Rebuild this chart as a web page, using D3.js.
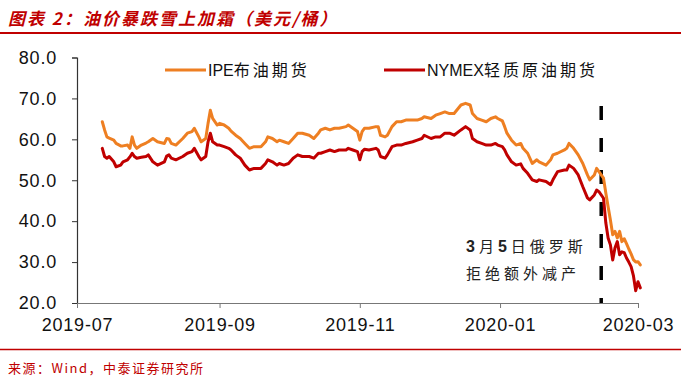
<!DOCTYPE html>
<html>
<head>
<meta charset="utf-8">
<script src="https://cdn.jsdelivr.net/npm/d3@7/dist/d3.min.js"></script>
<style>
	body { margin: 0; background: #fff; }
	svg { display: block; }
</style>
</head>
<body>
<svg id="chart" width="681" height="386"></svg>
<script>
var dates = [
	'2019-07-12','2019-07-13','2019-07-14','2019-07-15','2019-07-17','2019-07-18','2019-07-20','2019-07-21','2019-07-23','2019-07-24',
	'2019-07-25','2019-07-26','2019-07-27','2019-07-29','2019-07-31','2019-08-01','2019-08-03','2019-08-05','2019-08-08','2019-08-09',
	'2019-08-10','2019-08-11','2019-08-13','2019-08-16','2019-08-18','2019-08-20','2019-08-21','2019-08-23','2019-08-24','2019-08-26',
	'2019-08-27','2019-08-28','2019-08-29','2019-08-31','2019-09-01','2019-09-03','2019-09-05','2019-09-06','2019-09-08','2019-09-10',
	'2019-09-12','2019-09-14','2019-09-16','2019-09-19','2019-09-21','2019-09-22','2019-09-24','2019-09-26','2019-09-27','2019-09-29',
	'2019-10-01','2019-10-03','2019-10-05','2019-10-07','2019-10-10','2019-10-12','2019-10-14','2019-10-15','2019-10-17','2019-10-19',
	'2019-10-21','2019-10-23','2019-10-26','2019-10-27','2019-10-29','2019-10-31','2019-11-01','2019-11-02','2019-11-03','2019-11-05',
	'2019-11-08','2019-11-09','2019-11-10','2019-11-12','2019-11-13','2019-11-15','2019-11-17','2019-11-19','2019-11-21','2019-11-24',
	'2019-11-26','2019-11-28','2019-11-29','2019-12-02','2019-12-04','2019-12-06','2019-12-08','2019-12-10','2019-12-12','2019-12-15',
	'2019-12-17','2019-12-19','2019-12-20','2019-12-22','2019-12-24','2019-12-26','2019-12-28','2019-12-30','2019-12-31','2020-01-02',
	'2020-01-03','2020-01-04','2020-01-06','2020-01-08','2020-01-10','2020-01-11','2020-01-13','2020-01-15','2020-01-17','2020-01-18',
	'2020-01-21','2020-01-23','2020-01-24','2020-01-26','2020-01-29','2020-01-30','2020-01-31','2020-02-02','2020-02-04','2020-02-06',
	'2020-02-08','2020-02-09','2020-02-11','2020-02-12','2020-02-13','2020-02-15','2020-02-16','2020-02-17','2020-02-18','2020-02-19',
	'2020-02-20','2020-02-21','2020-02-22','2020-02-23','2020-02-24','2020-02-25','2020-02-26','2020-02-27','2020-02-28','2020-02-29',
	'2020-03-01','2020-03-02'
];

// IPE布油期货
var ipeBrent = [
	64.3,62.3,60.6,60.3,59.8,59.0,58.4,58.4,58.6,57.8,
	60.6,58.6,57.8,58.6,59.1,59.4,60.2,59.4,59.0,60.2,
	60.1,59.0,58.6,60.2,61.5,61.9,62.7,60.6,59.4,60.2,
	63.9,67.1,65.1,63.5,63.9,63.5,62.7,62.0,61.0,60.2,
	59.0,57.8,58.2,58.2,59.4,60.6,60.2,59.4,59.8,59.4,
	59.0,60.2,61.5,61.5,61.0,60.2,61.5,62.3,62.7,62.3,
	62.7,62.7,63.1,63.5,62.7,61.9,59.8,61.9,62.7,62.7,
	63.1,63.1,61.0,60.6,61.0,63.1,64.3,64.3,64.7,64.7,
	64.7,65.1,65.5,65.1,65.9,66.3,66.7,66.3,66.3,68.4,
	68.8,68.4,66.3,65.1,64.7,64.3,65.1,65.5,65.1,64.5,
	63.1,61.5,59.8,58.6,59.0,57.8,56.6,54.1,55.0,54.5,
	53.7,55.0,56.2,56.6,57.4,57.8,59.0,57.8,56.2,54.1,
	51.3,50.1,51.3,52.9,52.1,50.5,46.9,43.5,40.3,36.7,
	37.5,35.9,37.5,35.0,35.7,34.5,33.2,32.0,30.6,30.0,
	30.1,29.3
];

// NYMEX轻质原油期货
var nymexWti = [
	57.8,55.8,55.4,55.8,54.5,53.3,53.7,54.5,55.0,55.7,
	56.6,55.8,55.4,55.6,55.8,56.2,54.5,53.7,54.5,55.9,
	56.2,55.4,55.0,55.8,56.6,57.0,57.8,55.8,55.0,55.8,
	59.4,61.5,59.4,58.6,58.6,58.2,57.8,57.4,56.2,55.4,
	53.7,52.5,52.9,52.9,54.1,55.0,54.5,53.7,54.1,53.7,
	54.1,55.4,56.2,55.8,55.8,55.4,56.6,56.6,57.0,57.4,
	57.0,57.4,57.4,57.8,57.4,57.0,55.0,57.0,57.6,57.4,
	57.8,57.4,55.8,55.4,56.2,58.2,58.6,58.6,59.0,59.4,
	59.8,60.2,61.0,60.2,60.6,60.6,61.5,61.5,61.0,62.3,
	63.1,62.3,60.2,59.4,59.0,58.6,58.6,59.0,58.6,58.2,
	57.4,56.2,54.5,53.7,54.0,52.9,51.7,50.1,49.7,50.1,
	49.7,48.9,50.1,52.1,52.5,52.5,53.7,52.9,51.3,48.4,
	45.7,45.2,46.4,47.6,47.2,45.6,39.6,35.9,34.2,30.5,
	33.5,35.0,31.8,32.5,32.3,31.0,30.0,28.9,26.7,23.0,
	25.2,23.7
];

var yTicks = [20, 30, 40, 50, 60, 70, 80];
var xTickDates = ['2019-07-01', '2019-09-01', '2019-11-01', '2020-01-01', '2020-03-01'];
var xTickLabels = ['2019-07', '2019-09', '2019-11', '2020-01', '2020-03'];
var seriesNames = ['IPE布油期货', 'NYMEX轻质原油期货'];
var eventDate = '2020-02-14';
var eventLines = ['3月5日俄罗斯', '拒绝额外减产'];
var titleText = '图表 2：油价暴跌雪上加霜（美元/桶）';
var sourceText = '来源：Wind，中泰证券研究所';

var brandRed = '#c00000';
var orange = '#ee7f22';
var latin = '"Liberation Sans", Arial, sans-serif';
var cjk = '"Noto Sans CJK SC", "Liberation Sans", sans-serif';

var svg = d3.select('#chart');
var parseDate = d3.timeParse('%Y-%m-%d');

var x = d3.scaleTime()
	.domain([parseDate(xTickDates[0]), parseDate(xTickDates[xTickDates.length - 1])])
	.range([77, 638]);

var y = d3.scaleLinear()
	.domain([20, 80])
	.range([303, 57.5]);

// header and footer
svg.append('text')
	.attr('x', 8)
	.attr('y', 25)
	.attr('font-family', cjk)
	.attr('font-size', '17px')
	.attr('font-weight', 'bold')
	.attr('font-style', 'italic')
	.attr('letter-spacing', '2px')
	.attr('fill', brandRed)
	.text(titleText);

svg.append('line')
	.attr('x1', 0).attr('x2', 681)
	.attr('y1', 33).attr('y2', 33)
	.attr('stroke', brandRed)
	.attr('stroke-width', 2);

svg.append('line')
	.attr('x1', 0).attr('x2', 681)
	.attr('y1', 349.5).attr('y2', 349.5)
	.attr('stroke', brandRed)
	.attr('stroke-width', 1.5);

svg.append('text')
	.attr('x', 8)
	.attr('y', 373)
	.attr('font-family', cjk)
	.attr('font-size', '13px')
	.attr('letter-spacing', '1.5px')
	.attr('fill', brandRed)
	.text(sourceText);

// axes
var yAxis = svg.append('g')
	.attr('transform', 'translate(77,0)')
	.call(d3.axisLeft(y).tickValues(yTicks).tickFormat(d3.format('.1f')).tickSize(5).tickPadding(15));

var xAxis = svg.append('g')
	.attr('transform', 'translate(0,303)')
	.call(d3.axisBottom(x)
		.tickValues(xTickDates.map(parseDate))
		.tickFormat(function(d, i) { return xTickLabels[i]; })
		.tickSize(5).tickPadding(10).tickSizeOuter(0));

yAxis.select('.domain').attr('stroke', '#333').attr('stroke-width', 1.2);
yAxis.selectAll('.tick line').attr('stroke', '#333');
xAxis.select('.domain').attr('stroke', '#777').attr('stroke-width', 1.2);
xAxis.selectAll('.tick line').attr('stroke', '#777');

svg.selectAll('.tick text')
	.attr('font-family', latin)
	.attr('font-size', '18px')
	.attr('letter-spacing', '0.8px')
	.attr('fill', '#111');

// event marker
var ex = x(parseDate(eventDate));
svg.append('line')
	.attr('x1', ex).attr('x2', ex)
	.attr('y1', 106).attr('y2', 303)
	.attr('stroke', '#000')
	.attr('stroke-width', 3.5)
	.attr('stroke-dasharray', '14,18');

var note = svg.append('g')
	.attr('font-family', cjk)
	.attr('font-size', '15px')
	.attr('letter-spacing', '4px')
	.attr('fill', '#222');

var first = note.append('text').attr('x', 466).attr('y', 252);
first.selectAll('tspan')
	.data(eventLines[0].split(/(\d+)/).filter(function(s) { return s.length; }))
	.enter().append('tspan')
	.attr('font-family', function(s) { return /\d/.test(s) ? latin : cjk; })
	.attr('font-weight', function(s) { return /\d/.test(s) ? 'bold' : 'normal'; })
	.attr('font-size', function(s) { return /\d/.test(s) ? '16px' : '15px'; })
	.text(function(s) { return s; });

note.append('text')
	.attr('x', 466).attr('y', 279)
	.text(eventLines[1]);

// series
var rows = dates.map(function(d, i) {
	return { date: parseDate(d), ipe: ipeBrent[i], wti: nymexWti[i] };
});

var series = [
	{ key: 'ipe', color: orange },
	{ key: 'wti', color: brandRed }
];

series.forEach(function(s) {
	var line = d3.line()
		.x(function(d) { return x(d.date); })
		.y(function(d) { return y(d[s.key]); });

	svg.append('path')
		.datum(rows)
		.attr('d', line)
		.attr('fill', 'none')
		.attr('stroke', s.color)
		.attr('stroke-width', 3)
		.attr('stroke-linejoin', 'round')
		.attr('stroke-linecap', 'round');
});

// legend
var legendX = [165, 384];
series.forEach(function(s, i) {
	var g = svg.append('g').attr('transform', 'translate(' + legendX[i] + ',70)');
	g.append('line')
		.attr('x1', 0).attr('x2', 41)
		.attr('stroke', s.color)
		.attr('stroke-width', 3);
	var t = g.append('text')
		.attr('x', 43)
		.attr('y', 6)
		.attr('font-size', '16px')
		.attr('letter-spacing', '3px')
		.attr('fill', '#111');
	t.selectAll('tspan')
		.data(seriesNames[i].split(/([A-Za-z]+)/).filter(function(p) { return p.length; }))
		.enter().append('tspan')
		.attr('font-family', function(p) { return /[A-Za-z]/.test(p) ? latin : cjk; })
		.attr('letter-spacing', function(p) { return /[A-Za-z]/.test(p) ? '0px' : '3px'; })
		.text(function(p) { return p; });
});
</script>
</body>
</html>
